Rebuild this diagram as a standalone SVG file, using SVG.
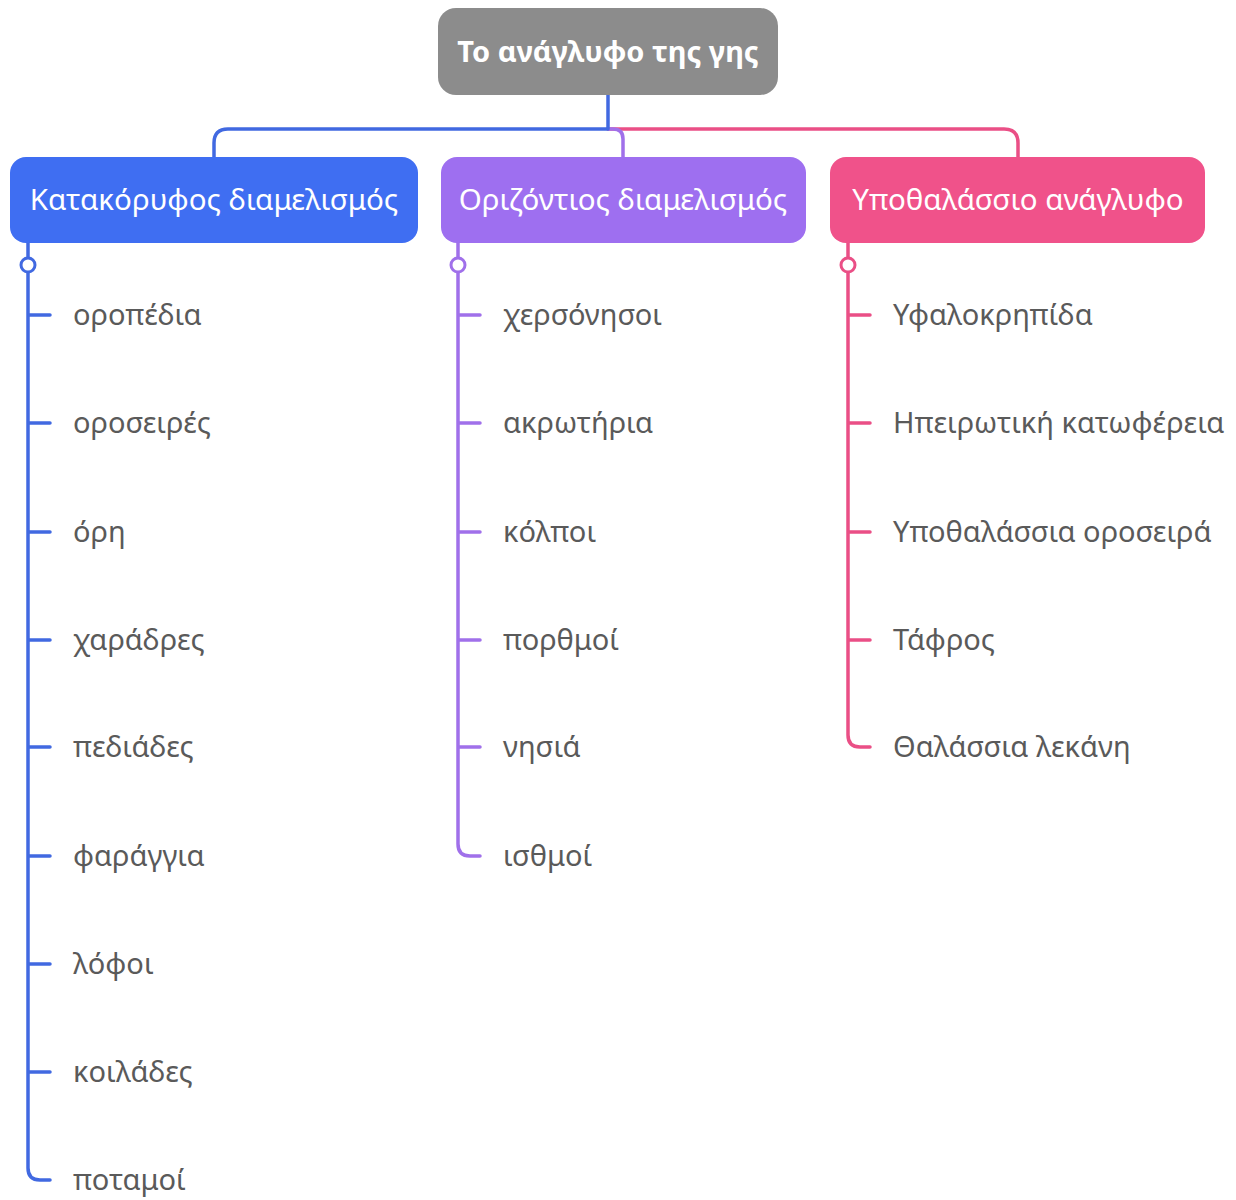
<svg xmlns="http://www.w3.org/2000/svg" width="1236" height="1200" viewBox="0 0 1236 1200">
<style>
.bg{fill:#ffffff}
.root{fill:#8c8c8c}
.rootT{font-family:"Noto Sans","DejaVu Sans",sans-serif;font-size:29px;font-weight:bold;fill:#ffffff;text-anchor:middle}
.mainT{font-family:"Noto Sans","DejaVu Sans",sans-serif;font-size:29.5px;fill:#ffffff;text-anchor:middle}
.item{font-family:"Noto Sans","DejaVu Sans",sans-serif;font-size:29px;fill:#5a5a5a}
.ln{fill:none;stroke-width:3.5;stroke-linecap:round;stroke-linejoin:round}
.blue{stroke:#4169e1}
.purple{stroke:#a070ea}
.pink{stroke:#ea4f86}
.dot{fill:#ffffff;stroke-width:3}
</style>
<rect class="bg" x="0" y="0" width="1236" height="1200"/>
<g id="connectors">
  <path class="ln pink" d="M608,129 H1004 Q1018,129 1018,143 V157"/>
  <path class="ln purple" d="M608,129 H613 Q623,129 623,139 V157"/>
  <path class="ln blue" d="M608,95 V129 H228 Q214,129 214,143 V157"/>
  <path class="ln blue" d="M28,243 V258 M28,272 V1168 Q28,1180 40,1180 H50 M28,315 H50 M28,423 H50 M28,532 H50 M28,640 H50 M28,747 H50 M28,856 H50 M28,964 H50 M28,1072 H50"/>
  <circle class="dot blue" cx="28" cy="265" r="7"/>
  <path class="ln purple" d="M458,243 V258 M458,272 V844 Q458,856 470,856 H480 M458,315 H480 M458,423 H480 M458,532 H480 M458,640 H480 M458,747 H480"/>
  <circle class="dot purple" cx="458" cy="265" r="7"/>
  <path class="ln pink" d="M848,243 V258 M848,272 V735 Q848,747 860,747 H870 M848,315 H870 M848,423 H870 M848,532 H870 M848,640 H870"/>
  <circle class="dot pink" cx="848" cy="265" r="7"/>
</g>
<g id="root">
  <rect class="root" x="438" y="8" width="340" height="87" rx="18"/>
  <text class="rootT" x="608" y="62">Το ανάγλυφο της γης</text>
</g>
<g id="n-vertical">
  <rect x="10" y="157" width="408" height="86" rx="16" fill="#3f6ef2"/>
  <text class="mainT" x="214" y="210">Κατακόρυφος διαμελισμός</text>
</g>
<g id="n-horizontal">
  <rect x="441" y="157" width="365" height="86" rx="16" fill="#9e6ff0"/>
  <text class="mainT" x="623" y="210">Οριζόντιος διαμελισμός</text>
</g>
<g id="n-undersea">
  <rect x="830" y="157" width="375" height="86" rx="16" fill="#f0528a"/>
  <text class="mainT" x="1018" y="210">Υποθαλάσσιο ανάγλυφο</text>
</g>
<g id="v1"><text class="item" x="73" y="325">οροπέδια</text></g>
<g id="v2"><text class="item" x="73" y="433">οροσειρές</text></g>
<g id="v3"><text class="item" x="73" y="542">όρη</text></g>
<g id="v4"><text class="item" x="73" y="650">χαράδρες</text></g>
<g id="v5"><text class="item" x="73" y="757">πεδιάδες</text></g>
<g id="v6"><text class="item" x="73" y="866">φαράγγια</text></g>
<g id="v7"><text class="item" x="73" y="974">λόφοι</text></g>
<g id="v8"><text class="item" x="73" y="1082">κοιλάδες</text></g>
<g id="v9"><text class="item" x="73" y="1190">ποταμοί</text></g>
<g id="h1"><text class="item" x="503" y="325">χερσόνησοι</text></g>
<g id="h2"><text class="item" x="503" y="433">ακρωτήρια</text></g>
<g id="h3"><text class="item" x="503" y="542">κόλποι</text></g>
<g id="h4"><text class="item" x="503" y="650">πορθμοί</text></g>
<g id="h5"><text class="item" x="503" y="757">νησιά</text></g>
<g id="h6"><text class="item" x="503" y="866">ισθμοί</text></g>
<g id="u1"><text class="item" x="893" y="325">Υφαλοκρηπίδα</text></g>
<g id="u2"><text class="item" x="893" y="433">Ηπειρωτική κατωφέρεια</text></g>
<g id="u3"><text class="item" x="893" y="542">Υποθαλάσσια οροσειρά</text></g>
<g id="u4"><text class="item" x="893" y="650">Τάφρος</text></g>
<g id="u5"><text class="item" x="893" y="757">Θαλάσσια λεκάνη</text></g>
</svg>
